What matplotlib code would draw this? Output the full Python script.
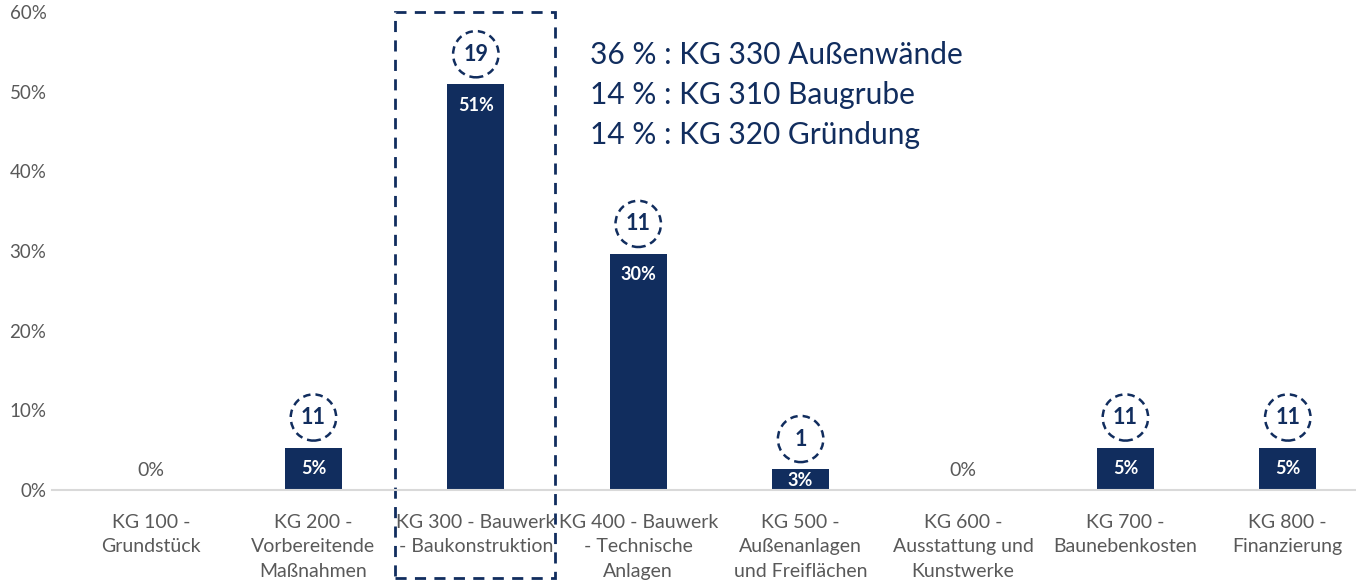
import matplotlib
matplotlib.use("Agg")
import matplotlib.pyplot as plt
from matplotlib.patches import Ellipse, Rectangle

plt.rcParams["font.family"] = ["Lato", "DejaVu Sans"]

categories = [
    "KG 100 -\nGrundstück",
    "KG 200 -\nVorbereitende\nMaßnahmen",
    "KG 300 - Bauwerk\n- Baukonstruktion",
    "KG 400 - Bauwerk\n- Technische\nAnlagen",
    "KG 500 -\nAußenanlagen\nund Freiflächen",
    "KG 600 -\nAusstattung und\nKunstwerke",
    "KG 700 -\nBaunebenkosten",
    "KG 800 -\nFinanzierung",
]
shares = [0.0, 5.3, 50.9, 29.6, 2.6, 0.0, 5.3, 5.3]
share_labels = ["0%", "5%", "51%", "30%", "3%", "0%", "5%", "5%"]
counts = [None, 11, 19, 11, 1, None, 11, 11]
notes = [
    "36 % : KG 330 Außenwände",
    "14 % : KG 310 Baugrube",
    "14 % : KG 320 Gründung",
]

navy = "#112d5e"
gray = "#595959"

fig = plt.figure(figsize=(13.56, 5.83), dpi=100)
ax = fig.add_axes([52 / 1356, 93 / 583, 1 - 52 / 1356, 478 / 583])

x = list(range(len(categories)))
ax.bar(x, shares, width=0.35, color=navy, zorder=2)

ax.set_xlim(-0.61, 7.42)
ax.set_ylim(0, 60)
ax.set_yticks(range(0, 61, 10))
ax.set_yticklabels([f"{v}%" for v in range(0, 61, 10)])
ax.set_xticks(x)
ax.set_xticklabels(categories, linespacing=1.55)
ax.tick_params(axis="both", length=0, colors=gray, labelsize=13.5)
ax.tick_params(axis="x", labelsize=14, pad=17)
ax.tick_params(axis="y", pad=4)
for side in ["top", "right", "left"]:
    ax.spines[side].set_visible(False)
ax.spines["bottom"].set_color("#d9d9d9")
ax.spines["bottom"].set_linewidth(1.5)

for xi, val, lab, cnt in zip(x, shares, share_labels, counts):
    if val == 0:
        ax.text(xi, 2.5, lab, ha="center", va="center", color=gray, fontsize=14)
        continue
    ty = val - 2.6 if val > 4 else val - 1.4
    ax.text(xi, ty, lab, ha="center", va="center", color="white",
            fontsize=13, fontweight="bold")
    if cnt is not None:
        cy = val + 3.8
        ax.add_patch(Ellipse((xi, cy), 0.28, 5.8, fill=False, edgecolor=navy,
                             linestyle=(0, (3, 2)), linewidth=1.8, clip_on=False))
        ax.text(xi, cy, str(cnt), ha="center", va="center", color=navy,
                fontsize=15.5, fontweight="bold")

# dashed highlight box around KG 300
ax.add_patch(Rectangle((1.5, -11.0), 0.99, 71.0, fill=False, edgecolor=navy,
                       linestyle=(0, (4, 3)), linewidth=2, clip_on=False))

for i, line in enumerate(notes):
    ax.text(2.7, 54.6 - i * 5.0, line, ha="left", va="center", color=navy,
            fontsize=21.5)

fig.savefig("out.png", dpi=100)
